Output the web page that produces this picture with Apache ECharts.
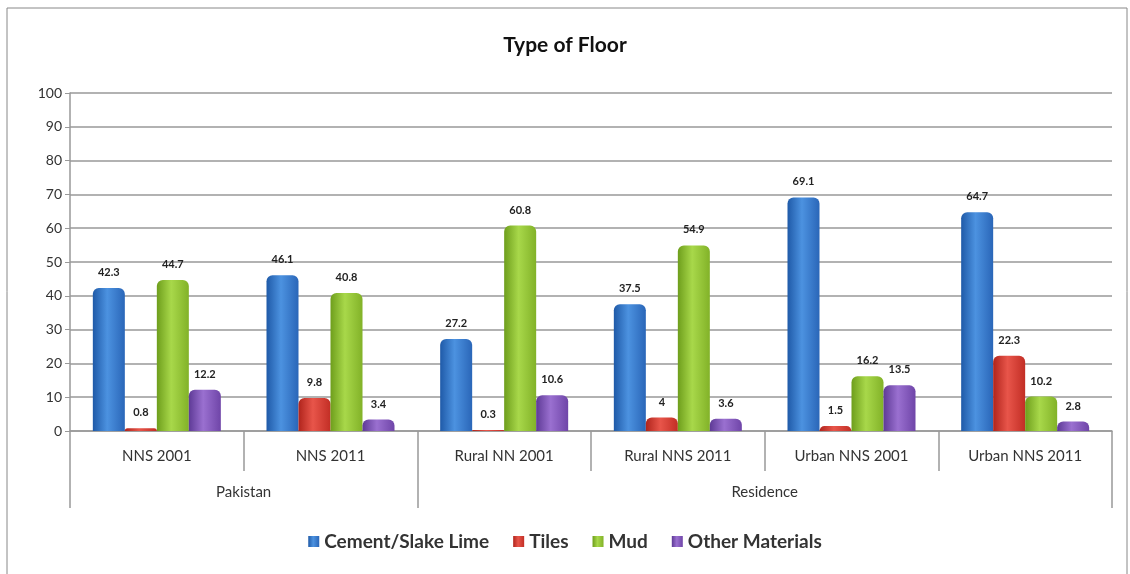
<!DOCTYPE html>
<html lang="en">
<head>
    <meta charset="utf-8">
    <title>Type of Floor</title>
    <script src="https://cdn.jsdelivr.net/npm/echarts@6.0.0/dist/echarts.min.js"></script>
    <style>
        body { margin: 0; background: #fff; }
        #floor-chart { width: 1130px; height: 574px; }
    </style>
</head>
<body>
<div id="floor-chart"></div>
<script>
    // 数据
    var categories = ['NNS 2001', 'NNS 2011', 'Rural NN 2001', 'Rural NNS 2011', 'Urban NNS 2001', 'Urban NNS 2011'];
    var groups = ['Pakistan', 'Residence'];
    var cement = [42.3, 46.1, 27.2, 37.5, 69.1, 64.7];
    var tiles = [0.8, 9.8, 0.3, 4, 1.5, 22.3];
    var mud = [44.7, 40.8, 60.8, 54.9, 16.2, 10.2];
    var other = [12.2, 3.4, 10.6, 3.6, 13.5, 2.8];

    var font = 'Lato, "Open Sans", sans-serif';

    // 圆柱效果的渐变
    function shade(dark, mid, light) {
        return new echarts.graphic.LinearGradient(0, 0, 1, 0, [
            {offset: 0, color: dark},
            {offset: 0.45, color: light},
            {offset: 1, color: mid}
        ]);
    }

    function makeSeries(name, data, color, fill) {
        return {
            name: name,
            type: 'bar',
            data: data,
            barWidth: 32,
            barGap: '0%',
            itemStyle: {color: fill, borderRadius: [6, 6, 0, 0]},
            color: color,
            label: {
                show: true,
                position: 'top',
                distance: 10,
                fontFamily: font,
                fontWeight: 'bold',
                fontSize: 11,
                color: '#222'
            }
        };
    }

    var chart = echarts.init(document.getElementById('floor-chart'));
    var option = {
        backgroundColor: '#fff',
        animation: false,
        title: {
            text: 'Type of Floor',
            left: 'center',
            top: 30,
            textStyle: {fontFamily: font, fontWeight: 'bold', fontSize: 21, color: '#111'}
        },
        legend: {
            bottom: 18,
            left: 'center',
            itemWidth: 11,
            itemHeight: 11,
            itemGap: 24,
            icon: 'rect',
            textStyle: {fontFamily: font, fontSize: 19, fontWeight: 'bold', color: '#333'},
            data: ['Cement/Slake Lime', 'Tiles', 'Mud', 'Other Materials']
        },
        graphic: [{
            type: 'rect',
            shape: {x: 7, y: 8, width: 1120, height: 620},
            style: {fill: 'none', stroke: '#888', lineWidth: 1}
        }],
        grid: {left: 70, right: 18, top: 93, bottom: 143},
        xAxis: [{
            type: 'category',
            data: categories,
            axisLine: {lineStyle: {color: '#999', width: 1.5}},
            axisTick: {show: true, length: 40, lineStyle: {color: '#999', width: 1.5}},
            axisLabel: {fontFamily: font, fontSize: 15, color: '#333', margin: 18, interval: 0}
        }, {
            type: 'value',
            min: 0,
            max: 6,
            position: 'bottom',
            axisLine: {show: false},
            splitLine: {show: false},
            axisTick: {show: true, length: 77, customValues: [0, 2, 6], lineStyle: {color: '#999', width: 1.5}},
            axisLabel: {
                customValues: [1, 4],
                margin: 54,
                fontFamily: font,
                fontSize: 15,
                color: '#333',
                formatter: function (v) { return v < 2 ? groups[0] : groups[1]; }
            }
        }],
        yAxis: {
            type: 'value',
            min: 0,
            max: 100,
            interval: 10,
            axisLine: {show: true, lineStyle: {color: '#999', width: 1.5}},
            axisTick: {show: true, length: 5, lineStyle: {color: '#999'}},
            splitLine: {lineStyle: {color: '#999', width: 1.5}},
            axisLabel: {fontFamily: font, fontSize: 14, color: '#333', margin: 8}
        },
        series: [
            makeSeries('Cement/Slake Lime', cement, '#2F6FC4', shade('#1F5AA8', '#2A66B8', '#4C92E0')),
            makeSeries('Tiles', tiles, '#D0352B', shade('#B0241C', '#C22E25', '#E8554A')),
            makeSeries('Mud', mud, '#8DBE2C', shade('#6E9E1C', '#82B228', '#A8D84A')),
            makeSeries('Other Materials', other, '#7A4EB4', shade('#5E3A96', '#6F45A8', '#9A70D0'))
        ]
    };
    chart.setOption(option);
</script>
</body>
</html>
